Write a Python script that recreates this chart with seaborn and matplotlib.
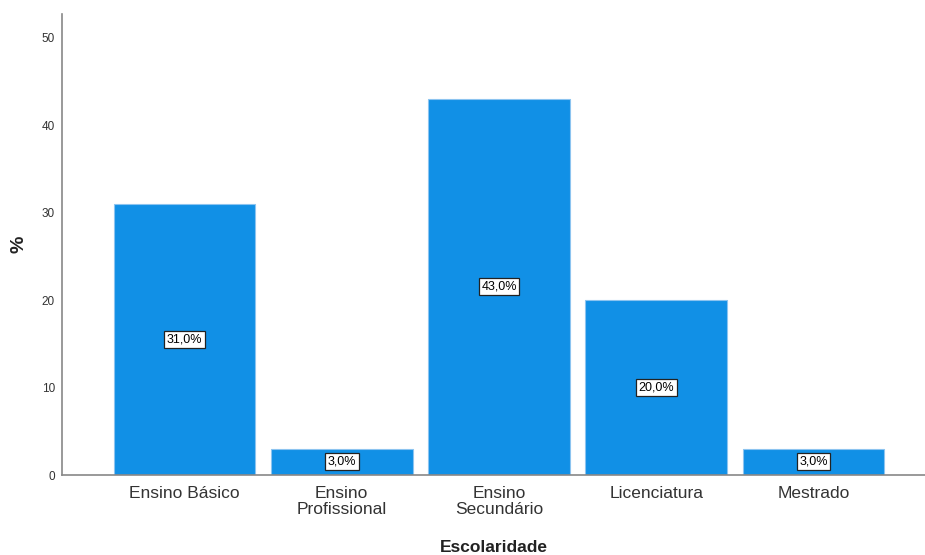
import matplotlib
matplotlib.use("Agg")
import matplotlib.pyplot as plt
import seaborn as sns
import pandas as pd

categories = ["Ensino Básico", "Ensino\nProfissional", "Ensino\nSecundário", "Licenciatura", "Mestrado"]
percent = [31.0, 3.0, 43.0, 20.0, 3.0]
labels = ["31,0%", "3,0%", "43,0%", "20,0%", "3,0%"]
yticks = [0, 10, 20, 30, 40, 50]

sns.set_theme(style="white")
plt.rcParams["font.family"] = ["Liberation Sans", "DejaVu Sans"]

df = pd.DataFrame({"cat": categories, "pct": percent})

fig = plt.figure(figsize=(9.25, 5.55), dpi=100)
ax = fig.add_axes([62/925, 1-475/555, 1-62/925, (475-14)/555])
sns.barplot(data=df, x="cat", y="pct", color="#1190E6", saturation=1, width=0.9,
            edgecolor="#8CC4F0", linewidth=0.8, ax=ax)

for i, (v, lab) in enumerate(zip(percent, labels)):
    ax.text(i, v/2, lab, ha="center", va="center", fontsize=9, color="black",
            bbox=dict(boxstyle="square,pad=0.2", fc="white", ec="#222222", lw=0.9))

ax.set_xlim(-0.78, 4.71)
ax.set_ylim(0, 52.7)
ax.set_yticks(yticks)
ax.set_yticklabels([str(t) for t in yticks], fontsize=8.5, color="#333333")
ax.tick_params(axis="x", labelsize=12.5, labelcolor="#333333", length=0, pad=8)
ax.tick_params(axis="y", length=0, pad=5)
for lab in ax.get_xticklabels():
    lab.set_linespacing(1.1)
ax.set_xlabel("Escolaridade", fontsize=12.5, fontweight="bold", color="#222222", labelpad=16)
ax.set_ylabel("%", fontsize=14, fontweight="bold", color="#222222", labelpad=10)
for s in ["top", "right"]:
    ax.spines[s].set_visible(False)
for s in ["left", "bottom"]:
    ax.spines[s].set_color("#888888")
    ax.spines[s].set_linewidth(1.2)

fig.savefig("out.png", dpi=100)
